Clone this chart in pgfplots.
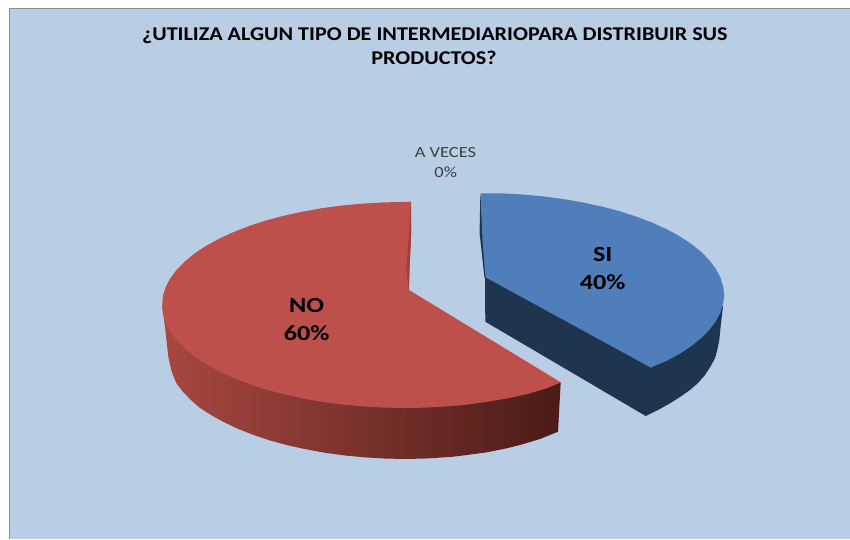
\documentclass[border=0pt]{standalone}
\usepackage{pgfplots}
\pgfplotsset{compat=1.18}
\usepackage{fontspec}
\setmainfont{Carlito}
\definecolor{bgc}{HTML}{B9CDE5}
\definecolor{framec}{HTML}{8E8E8E}
\definecolor{bluetop}{HTML}{4F7EBA}
\definecolor{blueside}{HTML}{1F344F}
\definecolor{redtop}{HTML}{BE504C}
\definecolor{redl}{HTML}{A8483F}
\definecolor{redm}{HTML}{6E2C2A}
\definecolor{redr}{HTML}{4A1B18}
\definecolor{redin}{HTML}{9E3F3C}
\begin{document}
\begin{tikzpicture}
\begin{axis}[
  scale only axis, width=850bp, height=539bp,
  xmin=0, xmax=850, ymin=0, ymax=539, y dir=reverse,
  hide axis, clip=true
]
% page
\addplot[fill=white, draw=none] coordinates {(0,0)(850,0)(850,539)(0,539)} --cycle;
\addplot[fill=bgc, draw=none] coordinates {(9.5,8.5)(850,8.5)(850,539)(9.5,539)} --cycle;
\addplot[draw=framec, line width=1.4bp] coordinates {(9.5,539)(9.5,8.5)(850,8.5)};
% blue slice side
\addplot[fill=blueside, draw=none] coordinates {
 (485,277)(485.3,321.7)(645.7,416)(658,410)(670,403.3)(680,397)(690,390)(698,383)(705,375)(710.5,366.5)(715,358.3)(717.5,349)(719.3,340)(721,323)(723,306.7)(700,300)} --cycle;
\addplot[fill=blueside, draw=none] coordinates {(480.3,193.3)(479.6,233)(484.5,278)(488,278)(483,233)} --cycle;
% blue slice top
\addplot[fill=bluetop, draw=none] coordinates {
 (480.5,193.3)(502.2,193.4)(523.2,194.5)(543.9,196.5)(564.1,199.2)(583.7,202.6)(602.5,206.7)(620.4,211.4)(637.2,216.9)(652.8,222.9)(667.1,229.4)(680.1,236.5)(691.4,244)(701.2,251.9)(709.3,260.1)(715.7,268.6)(720.3,277.3)(723.1,286.1)(724.3,295)(723.1,303.9)(720.3,312.7)(715.7,321.4)(709.3,329.9)(701.2,338.1)(691.4,346)(680.1,353.5)(667.1,360.6)(650.7,367.5)(485.5,277.3)(482.5,240)} --cycle;
% red slice side (shaded)
\addplot[left color=redl, middle color=redm, right color=redr, draw=none] coordinates {
 (162.3,306)(165,326.7)(168.3,356.7)(171.7,371.7)(176.1,382.7)(182.4,391.2)(190.4,399.5)(200,408)(211.2,415.1)(223.9,422.2)(238,428.8)(253.4,434.9)(269.9,440.4)(287.5,445.2)(306,449.3)(325.3,452.8)(345.1,455.5)(365.5,457.4)(386.2,458.6)(407,459)(427.8,458.4)(453,456.7)(470,454.6)(486.7,452.3)(504,448.9)(520,445)(540,439)(558,431.7)(560.7,382.3)(526.5,394.2)(400,380)(200,330)} --cycle;
% red slice top
\addplot[fill=redtop, draw=none] coordinates {
 (411,201.7)(383.8,202.4)(362.8,203.6)(342.1,205.5)(321.9,208.2)(302.3,211.7)(283.5,215.8)(265.6,220.6)(248.8,226.1)(233.2,232.2)(218.9,238.8)(205.9,245.9)(194.6,253.5)(184.8,261.5)(176.7,269.8)(170.3,278.3)(165.7,287.1)(162.9,296)(162.2,305)(162.9,314)(165.7,322.9)(170.3,331.7)(176.7,340.2)(184.8,348.5)(194.6,356.5)(205.9,364.1)(218.9,371.2)(233.2,377.8)(248.8,383.9)(265.6,389.4)(283.5,394.2)(302.3,398.3)(321.9,401.8)(342.1,404.5)(362.8,406.4)(383.8,407.6)(405,408)(426.2,407.6)(447.2,406.4)(467.9,404.5)(488.1,401.6)(507.7,398.3)(526.5,394.2)(546.7,388.3)(560.7,382.3)(409,290)(409.5,269)(411.2,233)} --cycle;
\addplot[fill=redin, draw=none] coordinates {(410.7,205)(408.5,240)(406.3,270)(408.8,290)(409.5,269)(411.2,233)} --cycle;
% texts
\node[anchor=base, font=\fontsize{19.5bp}{25bp}\selectfont\bfseries, text=black] at (axis cs:434.8,41) {\scalebox{1.135}[1]{¿UTILIZA ALGUN TIPO DE INTERMEDIARIOPARA DISTRIBUIR SUS}};
\node[anchor=base, font=\fontsize{19.5bp}{25bp}\selectfont\bfseries, text=black] at (axis cs:434,65) {\scalebox{1.135}[1]{PRODUCTOS?}};
\node[anchor=base, font=\fontsize{15.5bp}{20bp}\selectfont, text=black!75] at (axis cs:445.5,157.5) {\scalebox{1.19}[1]{A VECES}};
\node[anchor=base, font=\fontsize{15.5bp}{20bp}\selectfont, text=black!75] at (axis cs:445.7,177.5) {\scalebox{1.19}[1]{0\%}};
\node[anchor=base, font=\fontsize{21.5bp}{28bp}\selectfont\bfseries] at (axis cs:602.7,261.7) {\scalebox{1.22}[1]{SI}};
\node[anchor=base, font=\fontsize{21.5bp}{28bp}\selectfont\bfseries] at (axis cs:602.7,289) {\scalebox{1.22}[1]{40\%}};
\node[anchor=base, font=\fontsize{21.5bp}{28bp}\selectfont\bfseries] at (axis cs:306.7,312.3) {\scalebox{1.22}[1]{NO}};
\node[anchor=base, font=\fontsize{21.5bp}{28bp}\selectfont\bfseries] at (axis cs:306.7,340) {\scalebox{1.22}[1]{60\%}};
\end{axis}
\end{tikzpicture}
\end{document}
